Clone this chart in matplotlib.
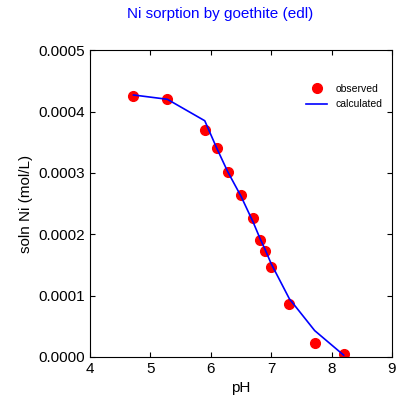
import matplotlib
matplotlib.use("Agg")
import matplotlib.pyplot as plt

ph_obs = [4.72, 5.28, 5.9, 6.1, 6.28, 6.5, 6.7, 6.82, 6.9, 7.0, 7.3, 7.72, 8.2]
ni_obs = [0.000425, 0.00042, 0.00037, 0.00034, 0.000302, 0.000264, 0.000227, 0.00019, 0.000173, 0.000147, 0.000086, 0.000023, 0.000005]
ph_calc = [4.72, 5.28, 5.9, 6.1, 6.28, 6.5, 6.7, 6.82, 6.9, 7.0, 7.3, 7.72, 8.2]
ni_calc = [0.000427, 0.00042, 0.000385, 0.00034, 0.000302, 0.000262, 0.00022, 0.000192, 0.000175, 0.000152, 0.000095, 0.000043, 0.000003]

plt.rcParams['font.family'] = ['Liberation Sans', 'DejaVu Sans']
fig = plt.figure(figsize=(4.0, 4.08), dpi=100)
ax = fig.add_axes([0.225, 0.125, 0.755, 0.752])
ax.plot(ph_obs, ni_obs, 'o', color='red', markersize=7, label='observed', zorder=2)
ax.plot(ph_calc, ni_calc, '-', color='blue', lw=1.2, label='calculated', zorder=3)
ax.set_xlim(4, 9)
ax.set_ylim(0, 0.0005)
ax.set_xticks([4, 5, 6, 7, 8, 9])
ax.set_yticks([0, 0.0001, 0.0002, 0.0003, 0.0004, 0.0005])
ax.set_yticklabels(['0.0000', '0.0001', '0.0002', '0.0003', '0.0004', '0.0005'])
ax.tick_params(direction='in', top=True, right=True, labelsize=11)
ax.set_xlabel('pH', fontsize=11)
ax.set_ylabel('soln Ni (mol/L)', fontsize=11)
fig.text(0.55, 0.965, 'Ni sorption by goethite (edl)', color='blue', ha='center', va='center', fontsize=11)
ax.legend(loc='upper right', bbox_to_anchor=(1.0, 0.92), frameon=False, fontsize=7.5)
fig.savefig('out.png', dpi=100)
